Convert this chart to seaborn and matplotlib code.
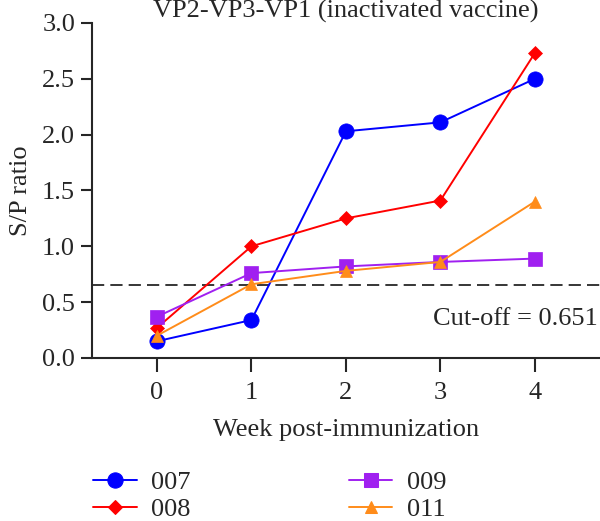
import matplotlib
matplotlib.use("Agg")
import matplotlib.pyplot as plt
import seaborn as sns
import pandas as pd

weeks = [0, 1, 2, 3, 4]
series_names = ["007", "008", "009", "011"]
s007 = [0.15, 0.34, 2.03, 2.11, 2.50]
s008 = [0.27, 1.00, 1.25, 1.41, 2.73]
s009 = [0.37, 0.76, 0.82, 0.86, 0.89]
s011 = [0.20, 0.66, 0.78, 0.86, 1.40]
cutoff = 0.651
title = "VP2-VP3-VP1 (inactivated vaccine)"
xlabel = "Week post-immunization"
ylabel = "S/P ratio"
yticks = [0.0, 0.5, 1.0, 1.5, 2.0, 2.5, 3.0]

colors = {"007": "#0000FF", "008": "#FF0000", "009": "#A020F0", "011": "#FF8C1A"}
markers = {"007": "o", "008": "D", "009": "s", "011": "^"}
msizes = {"007": 11, "008": 7.5, "009": 9.5, "011": 9}

rows = []
for name, vals in zip(series_names, [s007, s008, s009, s011]):
    for w, v in zip(weeks, vals):
        rows.append({"Week": w, "S/P": v, "ID": name})
df = pd.DataFrame(rows)

FS = 19
sns.set_style("ticks")
plt.rcParams["font.family"] = ["Liberation Serif", "DejaVu Serif"]
plt.rcParams["font.size"] = FS

fig = plt.figure(figsize=(6, 5.21), dpi=100)
ax = fig.add_axes([0.153, 0.3129, 0.847, 0.643])

sns.lineplot(data=df, x="Week", y="S/P", hue="ID", style="ID",
             palette=colors, markers=markers, dashes=False,
             hue_order=series_names, style_order=series_names,
             linewidth=1.4, ax=ax, legend=True)

for line, name in zip(ax.lines, series_names):
    line.set_markeredgecolor(line.get_color())
    line.set_markerfacecolor(line.get_color())
    line.set_markersize(msizes[name])
    line.set_markeredgewidth(0.5)

ax.axhline(cutoff, color="black", linestyle=(0, (8, 4)), linewidth=1.1, zorder=0)
ax.text(4.67, 0.35, f"Cut-off = {cutoff}", ha="right", va="center", fontsize=FS)

ax.set_xlim(-0.69, 4.69)
ax.set_ylim(0, 3.0)
ax.set_xticks(weeks)
ax.set_yticks(yticks)
ax.set_yticklabels([f"{t:.1f}" for t in yticks])
ax.set_xlabel(xlabel, fontsize=FS, labelpad=11)
ax.set_ylabel(ylabel, fontsize=FS, labelpad=7)
ax.set_title(title, fontsize=FS, pad=1)
for side in ["top", "right"]:
    ax.spines[side].set_visible(False)
for side in ["left", "bottom"]:
    ax.spines[side].set_linewidth(1.5)
ax.tick_params(axis="both", width=1.5, labelsize=FS, direction="out")
ax.tick_params(axis="y", length=8, pad=4)
ax.tick_params(axis="x", length=10, pad=7)
ax.spines["bottom"].set_bounds(-0.69, 4.69)

handles, labels = ax.get_legend_handles_labels()
for h, name in zip(handles, labels):
    h.set_markeredgecolor(colors[name])
    h.set_markerfacecolor(colors[name])
    h.set_markersize(msizes[name])
ax.get_legend().remove()
fig.legend(handles, labels, ncol=2, loc="upper left",
           bbox_to_anchor=(0.155, 0.097), frameon=False, fontsize=FS,
           handlelength=1.65, handletextpad=0.55, columnspacing=6.0,
           labelspacing=0.15, borderaxespad=0, borderpad=0)

fig.savefig("out.png", dpi=100)
